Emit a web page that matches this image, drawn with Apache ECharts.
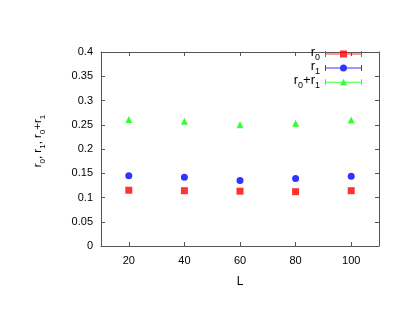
<!DOCTYPE html>
<html>
<head>
<meta charset="utf-8">
<script src="https://cdn.jsdelivr.net/npm/echarts@6/dist/echarts.min.js"></script>
<style>
  html, body { margin: 0; padding: 0; background: #fff; }
  #chart { width: 415px; height: 321px; }
</style>
</head>
<body>
<div id="chart"></div>
<script>
// data
const sizes = [20, 40, 60, 80, 100];
const r0 = [0.115, 0.114, 0.113, 0.112, 0.114];
const r1 = [0.145, 0.142, 0.135, 0.139, 0.144];
const r01 = [0.261, 0.257, 0.250, 0.253, 0.260];
const yTicks = [0, 0.05, 0.1, 0.15, 0.2, 0.25, 0.3, 0.35, 0.4];

const font = "Liberation Sans";
const frame = "#555";

function pts(ys) {
  return sizes.map((x, i) => [x, ys[i]]);
}

// legend icons: errorbar line with the marker in the middle
const iconSquare = "path://M0,4.5H37V5.5H0Z M0,2H1V8H0Z M36,2H37V8H36Z M15,1.5H22V8.5H15Z";
const iconCircle = "path://M0,4.5H37V5.5H0Z M0,2H1V8H0Z M36,2H37V8H36Z M18.5,1.5A3.5,3.5 0 1 1 18.49,1.5Z";
const iconTri = "path://M0,4.5H37V5.5H0Z M0,2H1V8H0Z M36,2H37V8H36Z M18.5,1.5L22,8H15Z";

const rich = {
  n: { fontFamily: font, fontSize: 13, color: "#000", lineHeight: 12, verticalAlign: "top" },
  s: { fontFamily: font, fontSize: 9, color: "#000", lineHeight: 16, verticalAlign: "bottom" }
};
const richAxis = {
  n: { fontFamily: font, fontSize: 11.5, color: "#000", lineHeight: 11, verticalAlign: "top" },
  s: { fontFamily: font, fontSize: 8, color: "#000", lineHeight: 15, verticalAlign: "bottom" }
};

const option = {
  animation: false,
  backgroundColor: "#fff",
  grid: { left: 101, right: 36, top: 52, bottom: 75 },
  legend: {
    orient: "vertical",
    right: 53,
    top: 46,
    padding: 0,
    align: "right",
    itemWidth: 37,
    itemHeight: 10,
    itemGap: -2,
    textStyle: { rich: rich },
    formatter: function (name) {
      if (name === "r0") return "{n|r}{s|0}";
      if (name === "r1") return "{n|r}{s|1}";
      return "{n|r}{s|0}{n|+r}{s|1}";
    },
    data: [
      { name: "r0", icon: iconSquare },
      { name: "r1", icon: iconCircle },
      { name: "r0+r1", icon: iconTri }
    ]
  },
  xAxis: [
    {
      type: "value",
      min: 10,
      max: 110,
      name: "L",
      nameLocation: "middle",
      nameGap: 30,
      nameTextStyle: { fontFamily: font, fontSize: 12, color: "#000" },
      axisLine: { show: true, onZero: false, lineStyle: { color: frame } },
      axisTick: { inside: true, length: 4, customValues: sizes, lineStyle: { color: frame } },
      axisLabel: { customValues: sizes, fontFamily: font, fontSize: 11, color: "#000", margin: 9 },
      splitLine: { show: false }
    },
    {
      type: "value",
      position: "top",
      min: 10,
      max: 110,
      axisLine: { show: true, onZero: false, lineStyle: { color: frame } },
      axisTick: { inside: true, length: 4, customValues: sizes, lineStyle: { color: frame } },
      axisLabel: { show: false },
      splitLine: { show: false }
    }
  ],
  yAxis: [
    {
      type: "value",
      min: 0,
      max: 0.4,
      interval: 0.05,
      name: "{n|r}{s|0}{n|, r}{s|1}{n|, r}{s|0}{n|+r}{s|1}",
      nameLocation: "middle",
      nameGap: 54,
      nameRotate: 90,
      nameTextStyle: { rich: richAxis, padding: [0, 0, 0, 16] },
      axisLine: { show: true, onZero: false, lineStyle: { color: frame } },
      axisTick: { inside: true, length: 4, lineStyle: { color: frame } },
      axisLabel: {
        fontFamily: font, fontSize: 11, color: "#000", margin: 8,
        customValues: yTicks,
        formatter: v => String(+v.toFixed(2))
      },
      splitLine: { show: false }
    },
    {
      type: "value",
      position: "right",
      min: 0,
      max: 0.4,
      interval: 0.05,
      axisLine: { show: true, onZero: false, lineStyle: { color: frame } },
      axisTick: { inside: true, length: 4, lineStyle: { color: frame } },
      axisLabel: { show: false },
      splitLine: { show: false }
    }
  ],
  series: [
    {
      name: "r0",
      type: "scatter",
      symbol: "rect",
      symbolSize: 7,
      itemStyle: { color: "#ff0000" },
      data: pts(r0)
    },
    {
      name: "r1",
      type: "scatter",
      symbol: "circle",
      symbolSize: 7,
      itemStyle: { color: "#0000ff" },
      data: pts(r1)
    },
    {
      name: "r0+r1",
      type: "scatter",
      symbol: "triangle",
      symbolSize: 7,
      itemStyle: { color: "#00ff00" },
      data: pts(r01)
    }
  ]
};

const chart = echarts.init(document.getElementById("chart"), null, { renderer: "canvas" });
chart.setOption(option);
</script>
</body>
</html>
